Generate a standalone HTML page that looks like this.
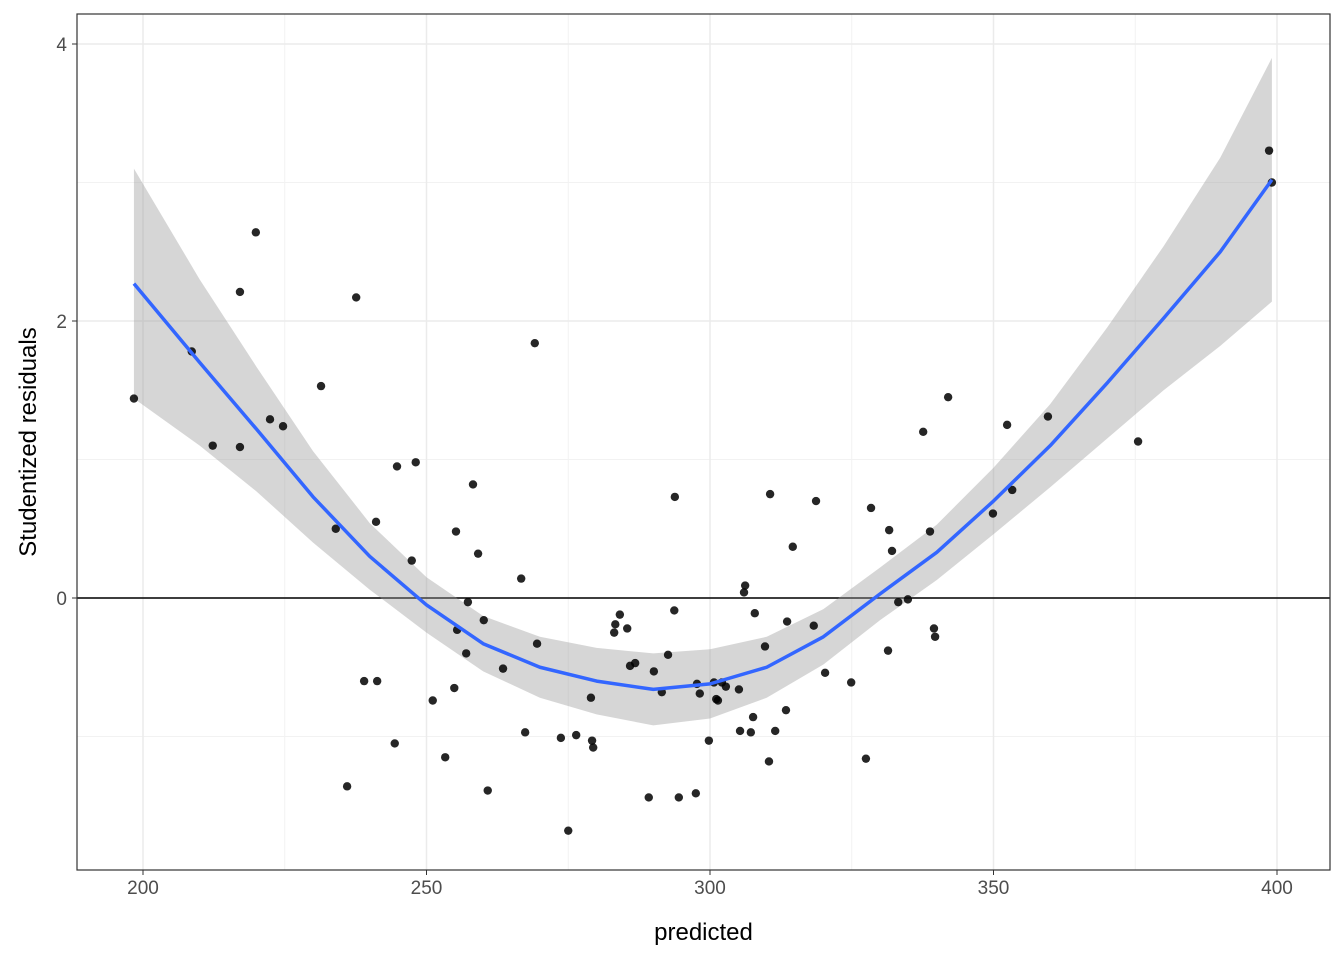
<!DOCTYPE html>
<html><head><meta charset="utf-8"><style>
body{margin:0;background:#fff}
svg text{font-family:"Liberation Sans",Arial,sans-serif}
</style></head><body>
<svg id="chart" width="1344" height="960"></svg>
<script>
const px=[198.4,208.6,212.3,217.1,217.1,219.9,222.4,224.7,231.4,234.0,236.0,237.6,239.0,241.3,241.1,244.4,244.8,247.4,248.1,251.1,253.3,254.9,255.2,255.4,257.0,257.3,258.2,259.1,260.1,260.8,263.5,266.7,267.4,269.1,269.5,273.7,275.0,276.4,279.0,279.2,279.4,283.1,283.3,284.1,285.4,285.9,286.8,289.2,290.1,291.5,292.6,293.7,293.8,294.5,297.5,297.7,298.2,299.8,300.7,301.1,301.4,302.1,302.8,305.1,305.3,306.0,306.2,307.2,307.6,307.9,309.7,310.4,310.6,311.5,313.4,313.6,314.6,318.3,318.7,320.3,324.9,327.5,328.4,331.4,331.6,332.1,333.2,334.9,337.6,338.8,339.5,339.7,342.0,349.9,352.4,353.3,359.6,375.5,398.6,399.1];
const py=[1.44,1.78,1.10,2.21,1.09,2.64,1.29,1.24,1.53,0.50,-1.36,2.17,-0.60,-0.60,0.55,-1.05,0.95,0.27,0.98,-0.74,-1.15,-0.65,0.48,-0.23,-0.40,-0.03,0.82,0.32,-0.16,-1.39,-0.51,0.14,-0.97,1.84,-0.33,-1.01,-1.68,-0.99,-0.72,-1.03,-1.08,-0.25,-0.19,-0.12,-0.22,-0.49,-0.47,-1.44,-0.53,-0.68,-0.41,-0.09,0.73,-1.44,-1.41,-0.62,-0.69,-1.03,-0.61,-0.73,-0.74,-0.61,-0.64,-0.66,-0.96,0.04,0.09,-0.97,-0.86,-0.11,-0.35,-1.18,0.75,-0.96,-0.81,-0.17,0.37,-0.20,0.70,-0.54,-0.61,-1.16,0.65,-0.38,0.49,0.34,-0.03,-0.01,1.20,0.48,-0.22,-0.28,1.45,0.61,1.25,0.78,1.31,1.13,3.23,3.00];
const fitX=[198.4,210,220,230,240,250,260,270,280,290,300,310,320,330,340,350,360,370,380,390,399.1];
const fitY=[2.27,1.7,1.22,0.73,0.3,-0.05,-0.33,-0.5,-0.6,-0.66,-0.62,-0.5,-0.28,0.03,0.33,0.7,1.1,1.55,2.02,2.5,3.02];
const fitSE=[0.83,0.6,0.45,0.33,0.24,0.2,0.2,0.22,0.24,0.26,0.25,0.22,0.2,0.19,0.2,0.24,0.3,0.4,0.52,0.68,0.88];
const xTicks=[200,250,300,350,400];
const yTicks=[0,2,4];
const L=77,R=1330,T=14,B=870;
const X=v=>143+(v-200)*5.67;
const Y=v=>598-v*138.5;
const svg=document.getElementById('chart');
const NS='http://www.w3.org/2000/svg';
function mk(t,a,p){const e=document.createElementNS(NS,t);for(const k in a)e.setAttribute(k,a[k]);(p||svg).appendChild(e);return e;}
let e;
e=mk('rect',{x:L,y:T,width:R-L,height:B-T,fill:'#fff'});


[225,275,325,375].forEach(v=>{e=mk('line',{x1:X(v),x2:X(v),y1:T,y2:B,stroke:'#f2f2f2','stroke-width':1});

});
[-1,1,3].forEach(v=>{e=mk('line',{x1:L,x2:R,y1:Y(v),y2:Y(v),stroke:'#f2f2f2','stroke-width':1});

});
xTicks.forEach(v=>{e=mk('line',{x1:X(v),x2:X(v),y1:T,y2:B,stroke:'#ebebeb','stroke-width':1.5});


e=mk('line',{x1:X(v),x2:X(v),y1:B,y2:B+5,stroke:'#333'});


e=mk('text',{x:X(v),y:B+24,'text-anchor':'middle','font-size':19,fill:'#4d4d4d'});e.textContent=v;

});
yTicks.forEach(v=>{e=mk('line',{x1:L,x2:R,y1:Y(v),y2:Y(v),stroke:'#ebebeb','stroke-width':1.5});


e=mk('line',{x1:L-5,x2:L,y1:Y(v),y2:Y(v),stroke:'#333'});


e=mk('text',{x:L-10,y:Y(v)+7,'text-anchor':'end','font-size':19,fill:'#4d4d4d'});e.textContent=v;

});
e=mk('line',{x1:L,x2:R,y1:Y(0),y2:Y(0),stroke:'#000','stroke-width':1.5});


let pts=[];
fitX.forEach((x,i)=>pts.push(X(x)+','+Y(fitY[i]+fitSE[i])));
for(let i=fitX.length-1;i>=0;i--)pts.push(X(fitX[i])+','+Y(fitY[i]-fitSE[i]));
e=mk('polygon',{points:pts.join(' '),fill:'#999',opacity:0.4});


px.forEach((x,i)=>{e=mk('circle',{cx:X(x),cy:Y(py[i]),r:4.2,fill:'#000',opacity:0.85});

});
e=mk('polyline',{points:fitX.map((x,i)=>X(x)+','+Y(fitY[i])).join(' '),fill:'none',stroke:'#3366ff','stroke-width':3.5,'stroke-linejoin':'round'});


e=mk('rect',{x:L,y:T,width:R-L,height:B-T,fill:'none',stroke:'#333','stroke-width':1.2});


e=mk('text',{x:(L+R)/2,y:940,'text-anchor':'middle','font-size':24,fill:'#000'});e.textContent='predicted';


e=mk('text',{x:36,y:(T+B)/2,'text-anchor':'middle','font-size':24,fill:'#000',transform:'rotate(-90 36 '+(T+B)/2+')'});e.textContent='Studentized residuals';


</script>
</body></html>
